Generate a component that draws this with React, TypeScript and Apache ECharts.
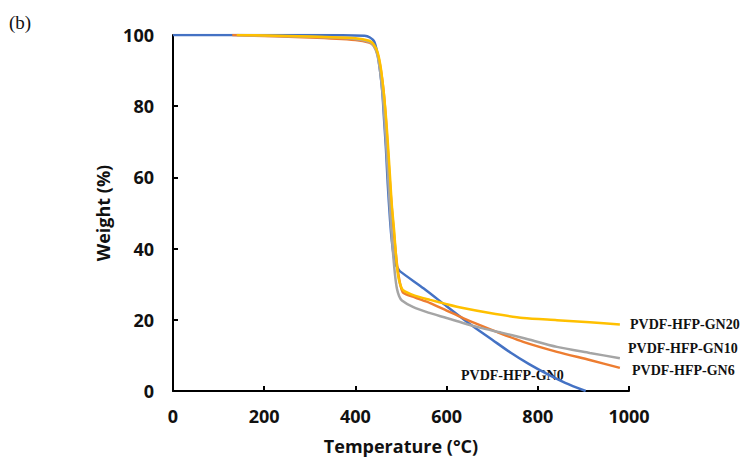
import React, { useEffect, useRef } from "react";
import * as echarts from "echarts";

const xTicks = [0, 200, 400, 600, 800, 1000];
const yTicks = [0, 20, 40, 60, 80, 100];

const seriesNames = ["PVDF-HFP-GN0", "PVDF-HFP-GN6", "PVDF-HFP-GN10", "PVDF-HFP-GN20"];

const tempGN0 = [0, 150, 300, 420, 432, 441, 448, 454, 459, 463, 467, 471, 476, 480, 484, 488, 493, 498, 550, 600, 650, 700, 740, 780, 820, 860, 905];
const weightGN0 = [100, 100, 100, 99.8, 99.3, 98.2, 95, 90, 84, 76, 68, 58, 48, 42, 38, 35.6, 34.5, 33.6, 28.8, 23.8, 18.9, 14.4, 10.8, 7.6, 4.8, 2.3, 0];

const tempGN6 = [130, 300, 400, 430, 440, 449, 456, 462, 467, 472, 477, 482, 486, 490, 494, 499, 505, 530, 564, 600, 636, 673, 710, 768, 842, 914, 980];
const weightGN6 = [100, 99.3, 98.6, 97.9, 97, 94.5, 90, 84, 76, 66, 56, 48, 42, 37, 33, 29.6, 27.6, 26.3, 24.7, 22.6, 20.5, 18.5, 16.6, 13.8, 11, 8.7, 6.5];

const tempGN10 = [140, 300, 400, 430, 440, 448, 454, 460, 465, 470, 475, 479, 483, 487, 491, 496, 502, 526, 560, 600, 636, 673, 720, 768, 842, 914, 980];
const weightGN10 = [100, 99.5, 98.9, 98.1, 97, 94.5, 90, 83, 74, 64, 53, 45, 38, 32.5, 28.8, 26.6, 25.4, 23.6, 22, 20.5, 19.1, 17.8, 16.4, 14.9, 12.4, 10.7, 9.2];

const tempGN20 = [140, 300, 400, 430, 440, 449, 456, 462, 467, 471, 476, 480, 485, 489, 493, 498, 504, 530, 564, 600, 636, 695, 768, 842, 914, 980];
const weightGN20 = [100, 99.6, 99.1, 98.4, 97.4, 95, 90.5, 84, 77, 70, 60, 52, 45, 38, 33, 30, 28.4, 26.8, 25.6, 24.4, 23.3, 21.9, 20.5, 19.9, 19.3, 18.7];

const seriesColors = ["#4472C4", "#ED7D31", "#A5A5A5", "#FFC000"];

const pairs = (xs: number[], ys: number[]) => xs.map((x, i) => [x, ys[i]]);

export default function App() {
  const ref = useRef<HTMLDivElement>(null);

  useEffect(() => {
    if (!ref.current) return;
    const chart = echarts.init(ref.current, undefined, { renderer: "svg" });
    const datasets = [
      pairs(tempGN0, weightGN0),
      pairs(tempGN6, weightGN6),
      pairs(tempGN10, weightGN10),
      pairs(tempGN20, weightGN20),
    ];
    const tickFont = { fontFamily: "Open Sans", fontWeight: "bold" as const, fontSize: 18, color: "#111" };
    const labelStyle = {
      fontFamily: "'Liberation Serif', 'Times New Roman', serif",
      fontWeight: "bold" as const,
      fontSize: 14,
      fill: "#111",
      verticalAlign: "middle" as const,
    };
    chart.setOption({
      animation: false,
      backgroundColor: "#fff",
      grid: { left: 173, right: 115, top: 35, bottom: 74, containLabel: false },
      xAxis: {
        type: "value",
        min: xTicks[0],
        max: xTicks[xTicks.length - 1],
        interval: 200,
        name: "Temperature (°C)",
        nameLocation: "middle",
        nameGap: 46,
        nameTextStyle: { ...tickFont },
        axisLine: { show: true, lineStyle: { color: "#000", width: 2 } },
        axisTick: { show: true, inside: true, length: 5, lineStyle: { color: "#000", width: 2 } },
        axisLabel: { ...tickFont, margin: 16, formatter: (v: number) => String(v) },
        splitLine: { show: false },
      },
      yAxis: {
        type: "value",
        min: yTicks[0],
        max: yTicks[yTicks.length - 1],
        interval: 20,
        name: "Weight (%)",
        nameLocation: "middle",
        nameGap: 44,
        nameTextStyle: { ...tickFont },
        axisLine: { show: true, lineStyle: { color: "#000", width: 2 } },
        axisTick: { show: true, inside: true, length: 5, lineStyle: { color: "#000", width: 2 } },
        axisLabel: { ...tickFont, margin: 19, formatter: (v: number) => String(v) },
        splitLine: { show: false },
      },
      series: datasets.map((d, i) => ({
        type: "line",
        name: seriesNames[i],
        data: d,
        showSymbol: false,
        smooth: 0.25,
        lineStyle: { color: seriesColors[i], width: 2.5 },
        itemStyle: { color: seriesColors[i] },
        z: 2 + i,
      })),
      graphic: [
        {
          type: "text",
          x: 9,
          y: 22,
          style: {
            text: "(b)",
            fontFamily: "'Liberation Serif', 'Times New Roman', serif",
            fontSize: 19,
            fill: "#111",
            verticalAlign: "middle",
          },
        },
        { type: "text", x: 630, y: 324, style: { ...labelStyle, text: seriesNames[3] } },
        { type: "text", x: 628, y: 348, style: { ...labelStyle, text: seriesNames[2] } },
        { type: "text", x: 632, y: 370, style: { ...labelStyle, text: seriesNames[1] } },
        { type: "text", x: 461, y: 375, style: { ...labelStyle, text: seriesNames[0] } },
      ],
    });
    return () => chart.dispose();
  }, []);

  return (
    <div
      ref={ref}
      style={{ position: "fixed", left: 0, top: 0, width: 744, height: 465, background: "#fff" }}
    />
  );
}
